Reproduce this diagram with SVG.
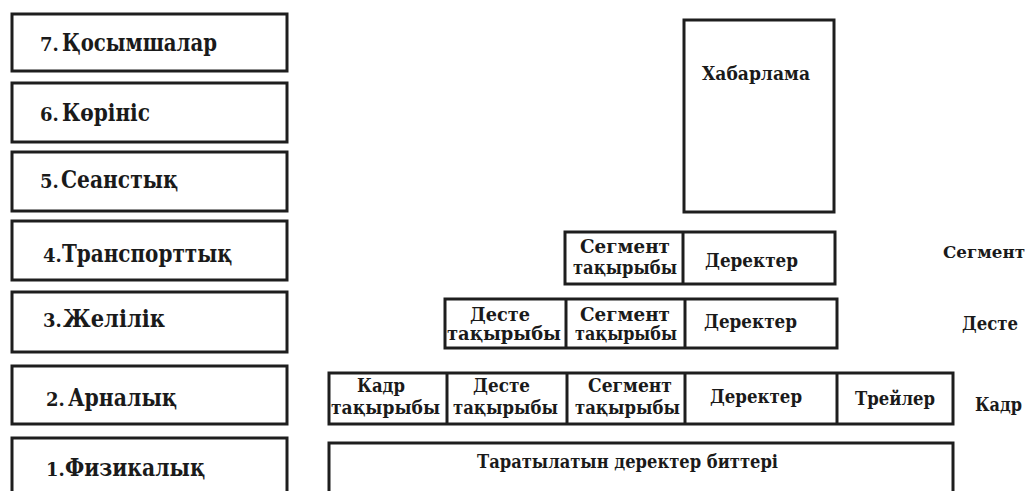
<svg xmlns="http://www.w3.org/2000/svg" width="1032" height="491" viewBox="0 0 1032 491">
<style>
rect{fill:#fff;stroke:#1e1e1e;stroke-width:3}
line{stroke:#1e1e1e;stroke-width:3}
text{font-family:'DejaVu Serif','Liberation Serif',serif;font-weight:bold;fill:#1a1a1a}
.n{font-size:18px}
.w{font-size:25px}
.c{font-size:18px}
.d{font-size:19px}
</style>
<rect x="0" y="0" width="1032" height="491" style="fill:#fff;stroke:none"/>
<g id="layer7"><rect x="12" y="14" width="275" height="57"/><text class="n" x="40" y="51">7.</text><text class="w" x="62" y="51" textLength="155" lengthAdjust="spacingAndGlyphs">Қосымшалар</text></g>
<g id="layer6"><rect x="12" y="83" width="275" height="59"/><text class="n" x="40" y="121">6.</text><text class="w" x="62" y="121" textLength="88" lengthAdjust="spacingAndGlyphs">Көрініс</text></g>
<g id="layer5"><rect x="12" y="152" width="275" height="59"/><text class="n" x="40" y="188">5.</text><text class="w" x="61" y="188" textLength="117" lengthAdjust="spacingAndGlyphs">Сеанстық</text></g>
<g id="layer4"><rect x="12" y="221" width="275" height="59"/><text class="n" x="43" y="262">4.</text><text class="w" x="62" y="262" textLength="170" lengthAdjust="spacingAndGlyphs">Транспорттық</text></g>
<g id="layer3"><rect x="12" y="292" width="275" height="60"/><text class="n" x="43" y="327">3.</text><text class="w" x="63" y="327" textLength="102" lengthAdjust="spacingAndGlyphs">Желілік</text></g>
<g id="layer2"><rect x="12" y="366" width="275" height="58"/><text class="n" x="46" y="406">2.</text><text class="w" x="68" y="406" textLength="109" lengthAdjust="spacingAndGlyphs">Арналық</text></g>
<g id="layer1"><rect x="12" y="438" width="275" height="70"/><text class="n" x="46" y="476">1.</text><text class="w" x="65" y="476" textLength="140" lengthAdjust="spacingAndGlyphs">Физикалық</text></g>

<g id="message"><rect x="684" y="20" width="150" height="192"/><text class="d" x="702" y="80" textLength="108" lengthAdjust="spacingAndGlyphs">Хабарлама</text></g>

<g id="segment">
<rect x="565" y="232" width="270" height="52"/>
<line x1="683" y1="232" x2="683" y2="284"/>
<text class="c" x="580" y="253" textLength="90" lengthAdjust="spacingAndGlyphs">Сегмент</text>
<text class="c" x="573" y="274" textLength="104" lengthAdjust="spacingAndGlyphs">тақырыбы</text>
<text class="d" x="705" y="267" textLength="93" lengthAdjust="spacingAndGlyphs">Деректер</text>
<text x="943" y="258" style="font-size:16px" textLength="82" lengthAdjust="spacingAndGlyphs">Сегмент</text>
</g>
<g id="packet">
<rect x="445" y="299" width="392" height="49"/>
<line x1="566" y1="299" x2="566" y2="348"/><line x1="685" y1="299" x2="685" y2="348"/>
<text class="c" x="470" y="321" textLength="60" lengthAdjust="spacingAndGlyphs">Десте</text>
<text class="c" x="447" y="340" textLength="114" lengthAdjust="spacingAndGlyphs">тақырыбы</text>
<text class="c" x="580" y="321" textLength="90" lengthAdjust="spacingAndGlyphs">Сегмент</text>
<text class="c" x="575" y="340" textLength="102" lengthAdjust="spacingAndGlyphs">тақырыбы</text>
<text class="d" x="704" y="328" textLength="93" lengthAdjust="spacingAndGlyphs">Деректер</text>
<text class="d" x="962" y="330" textLength="56" lengthAdjust="spacingAndGlyphs">Десте</text>
</g>
<g id="frame">
<rect x="329" y="373" width="624" height="51"/>
<line x1="447" y1="373" x2="447" y2="424"/><line x1="567" y1="373" x2="567" y2="424"/><line x1="685" y1="373" x2="685" y2="424"/><line x1="837" y1="373" x2="837" y2="424"/>
<text class="c" x="357" y="392" textLength="48" lengthAdjust="spacingAndGlyphs">Кадр</text>
<text class="c" x="331" y="414" textLength="109" lengthAdjust="spacingAndGlyphs">тақырыбы</text>
<text class="c" x="473" y="392" textLength="57" lengthAdjust="spacingAndGlyphs">Десте</text>
<text class="c" x="453" y="414" textLength="105" lengthAdjust="spacingAndGlyphs">тақырыбы</text>
<text class="c" x="588" y="392" textLength="84" lengthAdjust="spacingAndGlyphs">Сегмент</text>
<text class="c" x="575" y="414" textLength="105" lengthAdjust="spacingAndGlyphs">тақырыбы</text>
<text class="d" x="710" y="403" textLength="92" lengthAdjust="spacingAndGlyphs">Деректер</text>
<text class="d" x="855" y="405" textLength="80" lengthAdjust="spacingAndGlyphs">Трейлер</text>
<text class="d" x="975" y="411" textLength="47" lengthAdjust="spacingAndGlyphs">Кадр</text>
</g>
<g id="bits">
<rect x="329" y="443" width="624" height="70"/>
<text class="d" x="477" y="468" textLength="301" lengthAdjust="spacingAndGlyphs">Таратылатын деректер биттері</text>
</g>
</svg>
